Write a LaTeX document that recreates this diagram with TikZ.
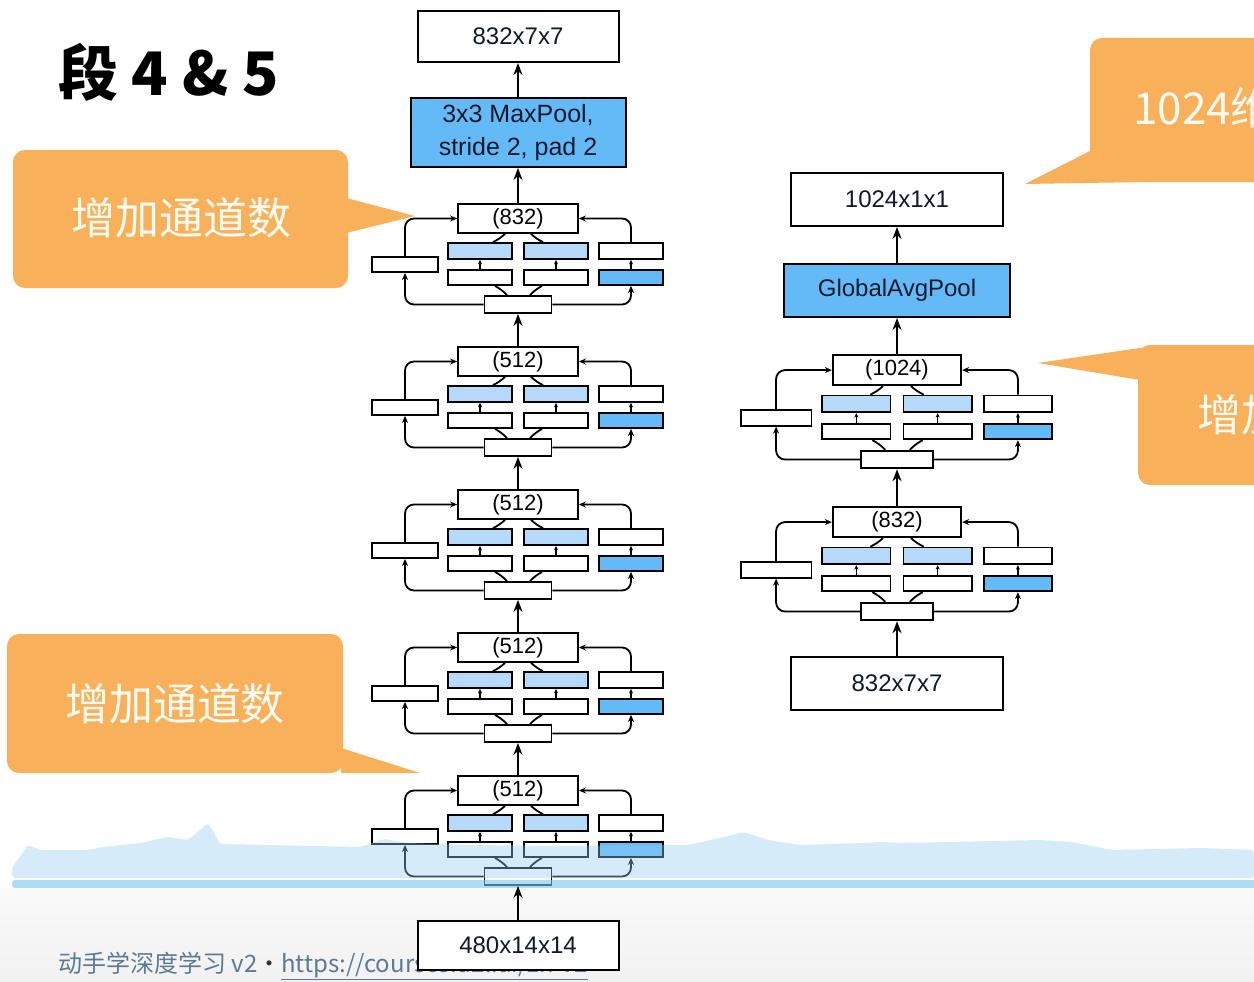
\documentclass[tikz,border=0pt]{standalone}
\usepackage{fontspec}
\setmainfont{Liberation Sans}
\newfontfamily\cjk{Noto Sans CJK SC}
\usetikzlibrary{arrows.meta}

\definecolor{callout}{RGB}{248,177,90}
\definecolor{calltext}{RGB}{255,251,243}
\definecolor{poolblue}{RGB}{100,186,246}
\definecolor{convblue}{RGB}{182,217,250}
\definecolor{waveblue}{RGB}{149,205,244}
\definecolor{stripblue}{RGB}{123,195,235}
\definecolor{footgray}{RGB}{92,122,150}
\definecolor{labelink}{RGB}{15,25,45}

\tikzset{
  box/.style={draw=black, line width=2pt, fill=white, inner sep=0pt,
    font=\fontsize{24}{24}\selectfont, text=labelink, align=center},
  sub/.style={draw=black, line width=1.8pt, fill=white, inner sep=0pt},
  flow/.style={line width=2pt, -{Stealth[length=12pt,width=9pt]}},
  bypass/.style={line width=1.8pt, rounded corners=9pt, -{Stealth[length=7pt,width=6pt]}},
  innerarrow/.style={line width=1.3pt, -{Stealth[length=4.5pt,width=4pt]}},
  joinline/.style={line width=1.8pt},
  bubble/.style={fill=callout, draw=none},
  bubbletext/.style={text=calltext, font=\cjk\fontsize{44}{44}\selectfont, inner sep=0pt},
}

% Inception block: #1 name, #2 centre x, #3 top y, #4 x scale, #5 y scale, #6 label
\newcommand{\incblock}[6]{%
  \pgfmathsetmacro{\sx}{#4}%
  \pgfmathsetmacro{\sy}{#5}%
  \begin{scope}[shift={(#2,#3)}]
    \node[sub, minimum width={120*\sx}, minimum height={29*\sy},
      font=\fontsize{22}{22}\selectfont] (#1-out) at (0,{14.5*\sy}) {#6};
    \node[sub, minimum width={66*\sx}, minimum height={15*\sy}] (#1-l) at ({-113*\sx},{60.5*\sy}) {};
    \node[sub, fill=convblue, minimum width={64*\sx}, minimum height={16*\sy}] (#1-mlt) at ({-38*\sx},{47*\sy}) {};
    \node[sub, minimum width={64*\sx}, minimum height={15*\sy}] (#1-mlb) at ({-38*\sx},{73.5*\sy}) {};
    \node[sub, fill=convblue, minimum width={64*\sx}, minimum height={16*\sy}] (#1-mrt) at ({38*\sx},{47*\sy}) {};
    \node[sub, minimum width={64*\sx}, minimum height={15*\sy}] (#1-mrb) at ({38*\sx},{73.5*\sy}) {};
    \node[sub, minimum width={64*\sx}, minimum height={16*\sy}] (#1-rt) at ({113*\sx},{47*\sy}) {};
    \node[sub, fill=poolblue, minimum width={64*\sx}, minimum height={15*\sy}] (#1-rb) at ({113*\sx},{73.5*\sy}) {};
    \node[sub, minimum width={67*\sx}, minimum height={17*\sy}] (#1-in) at (0,{100.5*\sy}) {};
  \end{scope}
  \draw[bypass] (#1-in.west) -| (#1-l.south);
  \draw[bypass] (#1-l.north) |- (#1-out.west);
  \draw[bypass] (#1-in.east) -| (#1-rb.south);
  \draw[bypass] (#1-rt.north) |- (#1-out.east);
  \draw[innerarrow] (#1-mlb.north) -- (#1-mlt.south);
  \draw[innerarrow] (#1-mrb.north) -- (#1-mrt.south);
  \draw[innerarrow] (#1-rb.north) -- (#1-rt.south);
  \draw[joinline] ([xshift={-11*\sx}]#1-in.north) to[bend right=8] ([xshift={15*\sx}]#1-mlb.south);
  \draw[joinline] ([xshift={12*\sx}]#1-in.north) to[bend left=8] ([xshift={-14*\sx}]#1-mrb.south);
  \draw[joinline] ([xshift={13*\sx}]#1-mlt.north) to[bend right=8] ([xshift={-13*\sx}]#1-out.south);
  \draw[joinline] ([xshift={-13*\sx}]#1-mrt.north) to[bend left=8] ([xshift={13*\sx}]#1-out.south);
}

\begin{document}
\begin{tikzpicture}[x=1pt, y=-1pt]
  \path[use as bounding box] (0,0) rectangle (1254,982);
  \clip (0,0) rectangle (1254,982);
  \fill[white] (0,0) rectangle (1254,982);

  % title
  \node[anchor=west, inner sep=0pt, font=\cjk\bfseries\fontsize{60}{60}\selectfont]
    (title) at (58,72) {段 4 \& 5};

  % ---- stage 4 column ----
  \node[box, minimum width=201, minimum height=51] (s4out) at (518,36.5) {832x7x7};
  \node[box, fill=poolblue, minimum width=215, minimum height=69,
    font=\fontsize{25}{33}\selectfont] (maxpool) at (518,132.5) {3x3 MaxPool,\\stride 2, pad 2};

  \incblock{a1}{518}{204}{1}{1}{(832)}
  \incblock{a2}{518}{347}{1}{1}{(512)}
  \incblock{a3}{518}{490}{1}{1}{(512)}
  \incblock{a4}{518}{633}{1}{1}{(512)}
  \incblock{a5}{518}{776}{1}{1}{(512)}

  \draw[flow] (maxpool.north) -- (s4out.south);
  \draw[flow] (a1-out.north) -- (maxpool.south);
  \draw[flow] (a2-out.north) -- (a1-in.south);
  \draw[flow] (a3-out.north) -- (a2-in.south);
  \draw[flow] (a4-out.north) -- (a3-in.south);
  \draw[flow] (a5-out.north) -- (a4-in.south);

  % ---- stage 5 column ----
  \node[box, minimum width=212, minimum height=53] (s5out) at (897,199.5) {1024x1x1};
  \node[box, fill=poolblue, minimum width=226, minimum height=53] (gap) at (897,290.5) {GlobalAvgPool};
  \incblock{b1}{897}{355}{1.07}{1.04}{(1024)}
  \incblock{b2}{897}{507}{1.07}{1.04}{(832)}
  \node[box, minimum width=212, minimum height=53] (s5in) at (897,683.5) {832x7x7};

  \draw[flow] (gap.north) -- (s5out.south);
  \draw[flow] (b1-out.north) -- (gap.south);
  \draw[flow] (b2-out.north) -- (b1-in.south);
  \draw[flow] (s5in.north) -- (b2-in.south);

  % ---- speech bubbles ----
  \fill[bubble, rounded corners=12pt] (13,150) rectangle (348,288);
  \fill[bubble] (346,198) -- (415,216) -- (346,233) -- cycle;
  \node[bubbletext] (c1) at (181,218) {增加通道数};

  \fill[bubble, rounded corners=12pt] (7,634) rectangle (343,773);
  \fill[bubble] (341,748) -- (420,773) -- (341,773) -- cycle;
  \node[bubbletext] (c2) at (175,704) {增加通道数};

  \fill[bubble, rounded corners=12pt] (1090,38) rectangle (1300,182);
  \fill[bubble] (1092,150) -- (1025,184) -- (1260,180) -- (1260,170) -- cycle;
  \node[bubbletext, anchor=west] (c3) at (1133,108) {1024维};

  \fill[bubble, rounded corners=12pt] (1138,345) rectangle (1300,485);
  \fill[bubble] (1038,363) -- (1160,345) -- (1140,380) -- cycle;
  \node[bubbletext, anchor=west] (c4) at (1197,415) {增加通道数};

  % ---- translucent wave band along the bottom ----
  \fill[waveblue, fill opacity=0.39, rounded corners=3pt]
    (12,878) -- (12,868) -- (28,845) -- (40,850) -- (88,850) -- (104,847)
    -- (140,843) -- (168,837) -- (188,840) -- (200,830) -- (208,823) -- (214,832)
    -- (220,844) -- (360,847) -- (384,839) -- (408,843) -- (470,845)
    -- (560,846) -- (640,845) -- (688,845) -- (720,838) -- (744,832) -- (768,840)
    -- (800,845) -- (864,843) -- (880,842) -- (904,843) -- (1040,840)
    -- (1072,842) -- (1112,850) -- (1200,848) -- (1254,850) -- (1254,878) -- cycle;
  \fill[stripblue, fill opacity=0.6, rounded corners=3pt] (12,880) rectangle (1270,888);
  \shade[top color={rgb,255:red,250;green,250;blue,250}, bottom color={rgb,255:red,241;green,241;blue,241}]
    (0,888) rectangle (1254,982);

  % footer
  \node[anchor=base west, inner sep=0pt, text=footgray, font=\cjk\fontsize{24}{24}\selectfont]
    (footer) at (58,972) {动手学深度学习 v2{\color{black!80}・}\underline{https://courses.d2l.ai/zh-v2}};

  % stage 4 input
  \node[box, minimum width=201, minimum height=49] (s4in) at (518,945.5) {480x14x14};
  \draw[flow] (s4in.north) -- (a5-in.south);
\end{tikzpicture}
\end{document}
